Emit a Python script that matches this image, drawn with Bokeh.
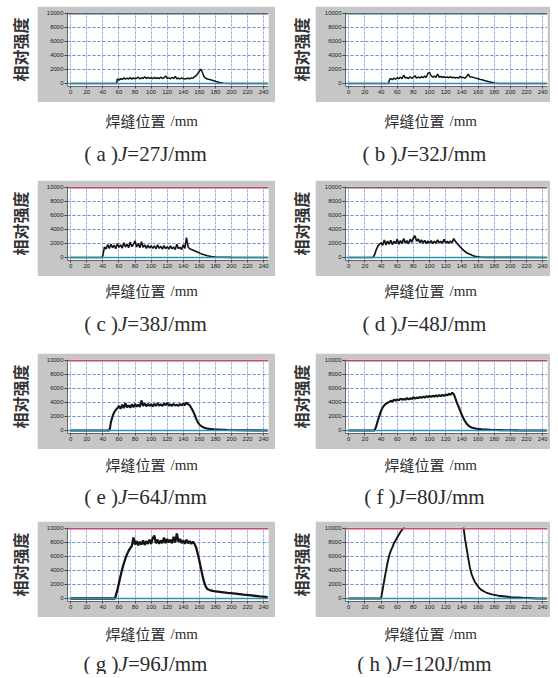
import math
from bokeh.plotting import figure
from bokeh.layouts import column, row
from bokeh.models import Range1d, FixedTicker, Span, Label, Spacer
from bokeh.embed import file_html
from bokeh.resources import INLINE

# ---------------- data ----------------
x_ticks = [0, 20, 40, 60, 80, 100, 120, 140, 160, 180, 200, 220, 240]
y_ticks = [0, 2000, 4000, 6000, 8000, 10000]
panel_letters = ["a", "b", "c", "d", "e", "f", "g", "h"]
energy_J = [27, 32, 38, 48, 64, 80, 96, 120]
y_label = "相对强度"
x_label_cn = "焊缝位置"
x_label_unit = "/mm"
upper_limit = 10000
baseline = 0

# (a) J=27 J/mm
pos_a = [0, 56, 57] + list(range(58, 158, 2)) + [158, 160, 162, 164, 166, 168, 170, 175, 180, 185, 190, 200, 245]
int_a = [0, 0, 0,
         650, 480, 700, 560, 820, 620, 760, 640, 860, 620,
         800, 680, 760, 900, 660, 820, 720, 960, 700, 860,
         740, 820, 680, 880, 720, 820, 680, 920, 720, 820,
         1080, 720, 800, 680, 860, 720, 1020, 680, 760, 660,
         800, 680, 640, 720, 760, 680, 800, 740, 980, 1100,
         1400, 1800, 2050, 1500, 950, 750, 650, 500, 320, 150, 40, 0, 0]
# (b) J=32 J/mm
pos_b = [0, 49, 50, 51] + list(range(52, 152, 2)) + [153, 156, 160, 165, 170, 175, 180, 185, 245]
int_b = [0, 0, 350, 650,
         700, 560, 760, 620, 820, 700, 900, 680, 1180, 760,
         880, 700, 960, 740, 880, 1100, 760, 920, 800, 980,
         820, 1050, 860, 1450, 1580, 1100, 900, 1050, 880, 1350,
         900, 1000, 860, 960, 840, 920, 820, 980, 800, 900,
         780, 880, 760, 1050, 800, 880, 760, 1000, 1350, 950,
         880, 800, 680, 520, 370, 220, 60, 0, 0]
# (c) J=38 J/mm
pos_c = [0, 39, 40, 41] + list(range(42, 146, 2)) + [146, 148, 151, 154, 158, 162, 166, 170, 175, 180, 190, 200, 245]
int_c = [0, 0, 300, 900,
         1500, 1200, 1850, 1300, 1900, 1400, 1750, 1250, 2000, 1450,
         1800, 1350, 2100, 1500, 1900, 1400, 2200, 1550, 1850, 2400,
         1500, 2000, 1400, 2250, 1450, 1800, 1300, 1750, 1350, 1700,
         1300, 1650, 1250, 1800, 1300, 1600, 1200, 1700, 1250, 1550,
         1200, 1650, 1250, 1500, 1150, 1900, 1250, 1450, 1150, 1800,
         1300, 2850,
         1500, 1250, 1100, 950, 750, 550, 380, 250, 150, 80, 40, 20, 0]
# (d) J=48 J/mm
pos_d = [0, 30, 32, 34, 36, 38] + list(range(40, 132, 2)) + [132, 135, 138, 141, 144, 147, 150, 154, 158, 163, 170, 245]
int_d = [0, 0, 400, 1100, 1600, 1900,
         2100, 1750, 2500, 1800, 2350, 1900, 2450, 1850, 2300, 2000,
         2600, 1900, 2400, 2000, 2700, 2050, 2400, 1950, 2600, 2200,
         2800, 3100, 2300, 2650, 2100, 2500, 2050, 2450, 2000, 2350,
         2050, 2400, 2000, 2300, 2050, 2500, 2100, 2300, 2050, 2600,
         2100, 2300, 2050, 2350, 2150, 2700,
         2300, 1900, 1500, 1150, 850, 600, 450, 250, 130, 60, 20, 0]
# (e) J=64 J/mm
pos_e = [0, 48, 49, 50, 52, 54, 56, 58] + list(range(60, 148, 2)) + [148, 150, 152, 154, 156, 158, 160, 162, 165, 168, 172, 178, 185, 195, 210, 245]
int_e = [0, 0, 500, 1200, 2000, 2600, 2900, 3200,
         3500, 3100, 3700, 3200, 3900, 3300, 3600, 3250, 3750, 3300,
         3800, 3400, 3700, 3350, 4300, 3500, 3850, 3450, 3800, 3500,
         3750, 3450, 3800, 3500, 3900, 3550, 3750, 3500, 3850, 3600,
         3950, 3550, 3750, 3500, 3800, 3550, 3700, 3500, 3800, 3550,
         3850, 3600, 4000, 3750,
         3600, 3200, 2800, 2300, 1700, 1200, 850, 650, 450, 330, 230, 170, 120, 70, 40, 0]
# (f) J=80 J/mm
pos_f = [0, 32, 34, 36, 38, 40, 42, 44, 46, 48] + list(range(50, 130, 2)) + [130, 132, 134, 137, 140, 143, 146, 149, 153, 158, 165, 175, 190, 210, 245]
int_f = [0, 0, 600, 1400, 2100, 2800, 3300, 3600, 3800, 3950,
         4050, 4250, 4150, 4400, 4250, 4450, 4300, 4550, 4400, 4500,
         4400, 4650, 4450, 4600, 4500, 4750, 4550, 4700, 4600, 4800,
         4650, 4850, 4700, 4900, 4750, 4950, 4800, 4950, 4850, 5000,
         4850, 5050, 4900, 5100, 4950, 5150, 5000, 5250, 5100, 5400,
         5200, 4600, 3900, 3100, 2200, 1500, 950, 600, 380, 250, 160, 100, 50, 20, 0]
# (g) J=96 J/mm
pos_g = [0, 55, 56, 58, 60, 62, 64, 66, 68, 70, 72, 74, 76] + list(range(78, 154, 2)) + [154, 156, 158, 160, 162, 164, 166, 168, 170, 174, 178, 185, 195, 205, 215, 225, 235, 245]
int_g = [0, 0, 400, 1200, 2200, 3200, 4200, 5000, 5700, 6300, 6800, 7200, 7500,
         8700, 7700, 8200, 7600, 8100, 7700, 8300, 7650, 8200, 7800,
         8400, 7800, 8600, 9000, 7900, 8400, 7800, 8300, 7900, 8700,
         7900, 8500, 8000, 8400, 7900, 8800, 8000, 9300, 8100, 8500,
         7900, 8300, 7800, 8400, 7900, 8200, 7800, 8100,
         7800, 7300, 6400, 5400, 4300, 3200, 2300, 1700, 1350, 1150, 1050, 950, 800, 680, 540, 430, 300, 200]
# (h) J=120 J/mm (saturated above 10000 between ~68 and ~142 mm)
pos_h = [0, 40, 42, 44, 46, 48, 50, 52, 54, 56, 58, 60, 62, 64, 66, 68, 70,
         140, 142, 144, 146, 148, 150, 152, 154, 156,
         160, 164, 170, 177, 185, 200, 215, 234, 245]
int_h = [0, 0, 1300, 2600, 3900, 5100, 6100, 6800, 7300, 7900, 8300, 8700, 9100, 9500, 9800, 10100, 10600,
         10600, 10300, 8400, 7100, 5700, 4400, 3500, 2900, 2400,
         1700, 1230, 850, 590, 400, 200, 100, 0, 0]

positions = [pos_a, pos_b, pos_c, pos_d, pos_e, pos_f, pos_g, pos_h]
intensities = [int_a, int_b, int_c, int_d, int_e, int_f, int_g, int_h]
for p_, i_ in zip(positions, intensities):
    assert len(p_) == len(i_), (len(p_), len(i_))

# ---------------- style / layout ----------------
GRAY = "#c6c6c6"
TOP_COLORS = ["#4f6272", "#3d6e74", "#b34b5e", "#8a5a66", "#c05068", "#b54a6a", "#c04a70", "#c8506e"]
LINE_W = [1.5, 1.5, 1.6, 1.7, 2.1, 2.1, 2.3, 1.9]
BASE_COLOR = "#2f8fb5"
CHART_H = 96
ROW_PAD = [0, 12, 15, 13]
TEXT_H = [66, 62, 59, 57]
XLAB_C = [18, 14, 15, 16]
CAP_C = [51, 47, 47, 46]
# per column: block width, ylabel width, chart width, right border, ylabel x, xlabel x, caption centre
COL = [dict(bw=271, yw=31, cw=238, rb=7, yx=13, xx=99, cc=139),
       dict(bw=273, yw=38, cw=235, rb=3, yx=23, xx=107, cc=147)]

SERIF = "Liberation Serif"
CJK = "Noto Sans CJK SC"
EM = {"(": 0.333, ")": 0.333, " ": 0.25, "a": 0.444, "b": 0.5, "c": 0.444, "d": 0.5,
      "e": 0.444, "f": 0.333, "g": 0.5, "h": 0.5, "=": 0.564, "J": 0.389, "/": 0.278, "m": 0.778}


def tw(s, size):
    return sum(0.5 if ch.isdigit() else EM.get(ch, 0.5) for ch in s) * size


def blank_fig(w, h):
    f = figure(width=w, height=h, x_range=Range1d(0, w), y_range=Range1d(0, h),
               x_axis_type=None, y_axis_type=None, output_backend="svg",
               toolbar_location=None, min_border=0)
    f.outline_line_color = None
    f.background_fill_color = "white"
    f.border_fill_color = "white"
    f.title.visible = False
    return f


def chart(k, cw, rb):
    p = figure(width=cw, height=CHART_H, x_range=Range1d(-4, 246), y_range=Range1d(-430, 10140),
               output_backend="svg", toolbar_location=None,
               min_border_left=30, min_border_right=rb, min_border_top=6, min_border_bottom=CHART_H - 80)
    p.title.visible = False
    p.border_fill_color = GRAY
    p.background_fill_color = "white"
    p.outline_line_color = None
    for ax in (p.xaxis[0], p.yaxis[0]):
        ax.major_label_text_font = "Liberation Sans"
        ax.major_label_text_font_size = "6px"
        ax.major_label_text_color = "#222222"
        ax.minor_tick_line_color = None
        ax.major_tick_in = 0
        ax.major_tick_line_color = "#444444"
        ax.axis_line_color = "#666666"
        ax.major_label_standoff = 1
    p.xaxis.ticker = FixedTicker(ticks=x_ticks)
    p.yaxis.ticker = FixedTicker(ticks=y_ticks)
    p.xaxis.major_tick_out = 2
    p.yaxis.major_tick_out = 3
    p.xgrid.ticker = FixedTicker(ticks=x_ticks)
    p.ygrid.ticker = FixedTicker(ticks=y_ticks)
    p.xgrid.grid_line_color = "#9fb2e2"
    p.xgrid.grid_line_dash = "3 1"
    p.ygrid.grid_line_color = "#6a8ae0"
    p.ygrid.grid_line_dash = "3 2"
    p.add_layout(Span(location=upper_limit, dimension="width", line_color=TOP_COLORS[k], line_width=2))
    p.add_layout(Span(location=baseline, dimension="width", line_color=BASE_COLOR, line_width=1.5))
    p.line(positions[k], intensities[k], line_color="#141414", line_width=LINE_W[k])
    return p


def block(k):
    r, c = divmod(k, 2)
    g = COL[c]
    bw = g["bw"]
    ylab = blank_fig(g["yw"], CHART_H)
    ylab.add_layout(Label(x=g["yx"], y=CHART_H - 48, text=y_label, angle=math.pi / 2,
                          text_align="center", text_baseline="middle", text_font=CJK,
                          text_font_style="bold", text_font_size="16px", text_color="#333333"))
    ch = chart(k, g["cw"], g["rb"])
    th = TEXT_H[r]
    txt = blank_fig(bw, th)
    yx = th - XLAB_C[r]
    txt.add_layout(Label(x=g["xx"], y=yx, text=x_label_cn, text_align="left", text_baseline="middle",
                         text_font=CJK, text_font_size="15px", text_color="#2e2e2e"))
    txt.add_layout(Label(x=g["xx"] + 65, y=yx, text=x_label_unit, text_align="left", text_baseline="middle",
                         text_font=SERIF, text_font_size="15px", text_color="#2e2e2e"))
    size = 21
    p1 = "( %s )" % panel_letters[k]
    p2 = "J"
    p3 = "=%dJ/mm" % energy_J[k]
    w1 = tw(p1, size)
    w2 = 0.444 * size
    w3 = tw(p3, size)
    x0 = g["cc"] - (w1 + w2 + w3) / 2
    yc = th - CAP_C[r]
    for txt_s, xs, style in ((p1, x0, "normal"), (p2, x0 + w1, "italic"), (p3, x0 + w1 + w2, "normal")):
        txt.add_layout(Label(x=xs, y=yc, text=txt_s, text_align="left", text_baseline="middle",
                             text_font=SERIF, text_font_style=style, text_font_size="%dpx" % size,
                             text_color="#2b2b2b"))
    items = []
    if ROW_PAD[r] > 0:
        items.append(Spacer(width=bw, height=ROW_PAD[r]))
    parts = [ylab, ch]
    rest = bw - g["yw"] - g["cw"]
    if rest > 0:
        parts.append(Spacer(width=rest, height=CHART_H))
    items.append(row(*parts))
    items.append(txt)
    return column(*items)


grid = column(Spacer(width=544, height=6),
              *[row(block(2 * r), block(2 * r + 1)) for r in range(4)])
layout = row(Spacer(width=6, height=10), grid)

with open("out.html", "w") as fh:
    fh.write(file_html(layout, INLINE))
